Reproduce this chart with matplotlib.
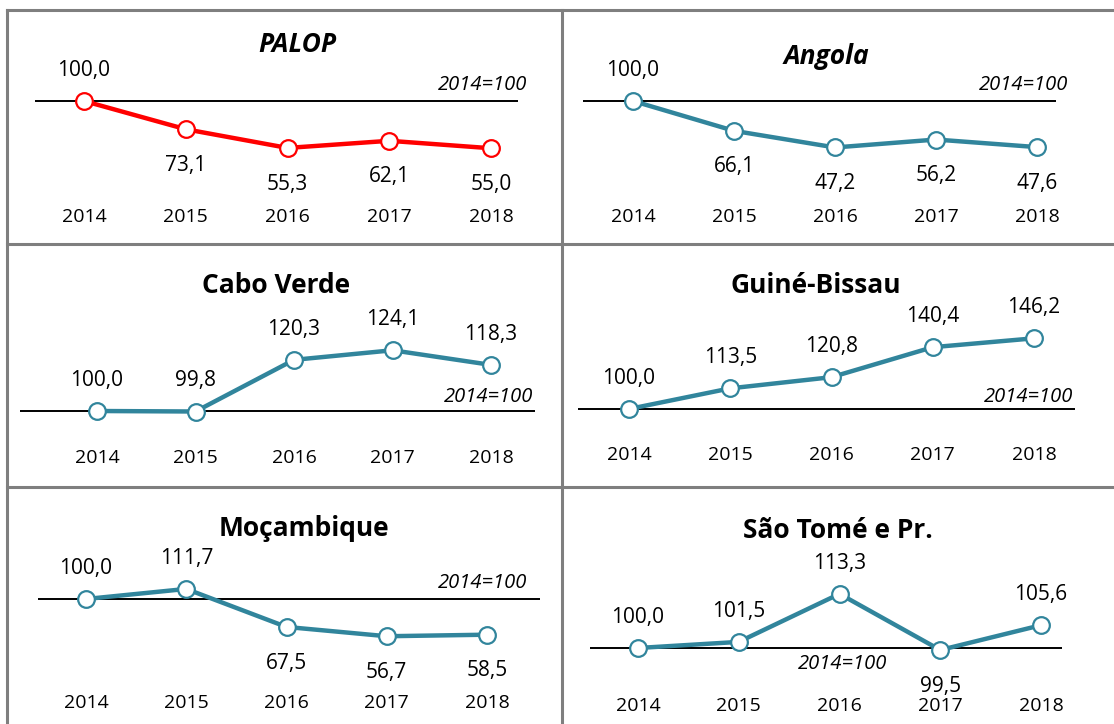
import matplotlib
matplotlib.use('Agg')
import matplotlib.pyplot as plt
from matplotlib.lines import Line2D

# Data (2014 = 100)
years = ['2014', '2015', '2016', '2017', '2018']
titles = ['PALOP', 'Angola', 'Cabo Verde', 'Guiné-Bissau', 'Moçambique', 'São Tomé e Pr.']
palop = [100.0, 73.1, 55.3, 62.1, 55.0]
angola = [100.0, 66.1, 47.2, 56.2, 47.6]
cabo_verde = [100.0, 99.8, 120.3, 124.1, 118.3]
guine_bissau = [100.0, 113.5, 120.8, 140.4, 146.2]
mocambique = [100.0, 111.7, 67.5, 56.7, 58.5]
sao_tome = [100.0, 101.5, 113.3, 99.5, 105.6]
series = [palop, angola, cabo_verde, guine_bissau, mocambique, sao_tome]

# where the value labels go: +1 above the point, -1 below
label_side = [
    [1, -1, -1, -1, -1],
    [1, -1, -1, -1, -1],
    [1, 1, 1, 1, 1],
    [1, 1, 1, 1, 1],
    [1, 1, -1, -1, -1],
    [1, 1, 1, -1, 1],
]

# Layout in pixels (y measured from the top of the image)
W, H = 1114, 724
cells = [(7, 10, 562, 244), (562, 10, 1120, 244),
         (7, 244, 562, 487), (562, 244, 1120, 487),
         (7, 487, 562, 730), (562, 487, 1120, 730)]
# first point x, last point x, y of the 100 line, pixels per unit
geom = [(84, 491, 101, 1.05), (633, 1037, 101, 0.88),
        (97, 491, 411, 2.52), (629, 1034, 409, 1.53),
        (86, 487, 599, 0.86), (638, 1041, 648, 4.07)]
base_x = [(35, 518), (583, 1056), (20, 535), (578, 1075), (38, 540), (590, 1062)]
title_pos = [(297, 45), (826, 56), (276, 286), (816, 286), (304, 528), (838, 531)]
title_italic = [True, True, False, False, False, False]
year_y = [217, 217, 458, 455, 703, 706]
note_pos = [(527, 85, 'right'), (1068, 85, 'right'), (533, 397, 'right'),
            (1073, 397, 'right'), (527, 583, 'right'), (843, 664, 'center')]
colors = ['#ff0000'] + ['#31859c'] * 5

plt.rcParams['font.family'] = ['Open Sans', 'DejaVu Sans']

fig = plt.figure(figsize=(W / 100, H / 100), dpi=100)
fig.patch.set_facecolor('white')


def fx(x):
    return x / W


def fy(y):
    return 1 - y / H


for k in range(6):
    cx0, cy0, cx1, cy1 = cells[k]
    x_first, x_last, y100, s = geom[k]
    step = (x_last - x_first) / 4.0

    ax = fig.add_axes([fx(cx0), fy(cy1), (cx1 - cx0) / W, (cy1 - cy0) / H])
    ax.set_xlim((cx0 - x_first) / step, (cx1 - x_first) / step)
    ax.set_ylim(100 - (cy1 - y100) / s, 100 + (y100 - cy0) / s)
    ax.axis('off')

    # reference line at 100
    ax.hlines(100, (base_x[k][0] - x_first) / step, (base_x[k][1] - x_first) / step,
              color='black', lw=1.4, zorder=1)

    xs = list(range(len(years)))
    ax.plot(xs, series[k], color=colors[k], lw=3.2, marker='o', ms=12,
            mfc='white', mec=colors[k], mew=1.6, zorder=3, clip_on=False)

    for i, v in enumerate(series[k]):
        off = 22 if label_side[k][i] > 0 else -26
        ax.annotate(f'{v:.1f}'.replace('.', ','), (i, v), xytext=(0, off),
                    textcoords='offset points', ha='center', va='center',
                    fontsize=15, color='black')

    yy = (cy1 - year_y[k]) / (cy1 - cy0)
    for i, yr in enumerate(years):
        ax.text(i, yy, yr, transform=ax.get_xaxis_transform(), ha='center',
                va='center', fontsize=14, color='black')

    tx, ty = title_pos[k]
    fig.text(fx(tx), fy(ty), titles[k], ha='center', va='center', fontsize=19,
             fontweight='bold', style='italic' if title_italic[k] else 'normal')

    nx, ny, nha = note_pos[k]
    fig.text(fx(nx), fy(ny), '2014=100', ha=nha, va='center', fontsize=14.5,
             style='italic', color='black')

# panel borders
border = dict(color='#7f7f7f', lw=2.2, transform=fig.transFigure)
fig.add_artist(Line2D([fx(7), fx(7)], [fy(10), fy(730)], **border))
fig.add_artist(Line2D([fx(7), fx(1120)], [fy(10), fy(10)], **border))
fig.add_artist(Line2D([fx(562), fx(562)], [fy(10), fy(730)], **border))
fig.add_artist(Line2D([fx(7), fx(1120)], [fy(244), fy(244)], **border))
fig.add_artist(Line2D([fx(7), fx(1120)], [fy(487), fy(487)], **border))

fig.savefig('out.png', dpi=100)
